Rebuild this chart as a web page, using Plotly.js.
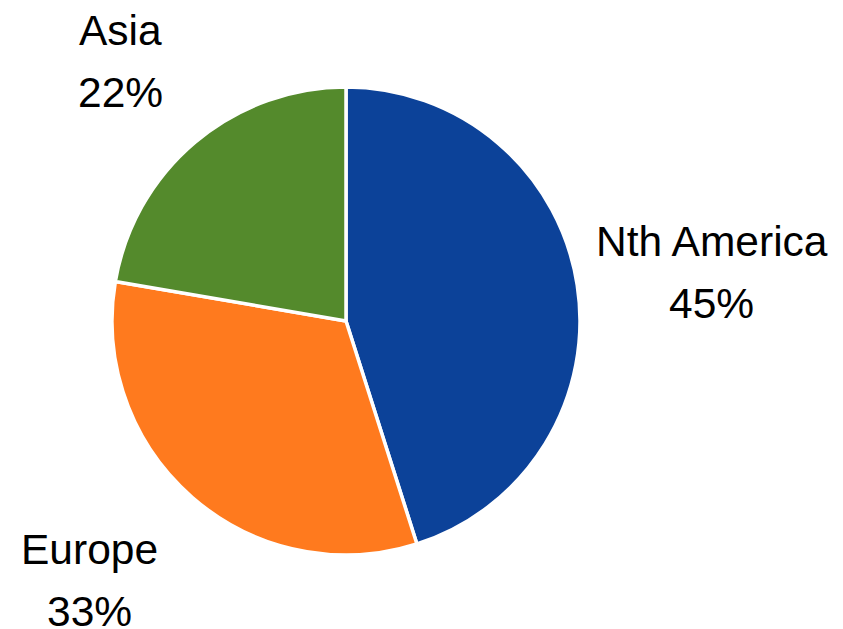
<!DOCTYPE html>
<html>
<head>
<meta charset="utf-8">
<script src="https://cdn.plot.ly/plotly-3.0.1.min.js"></script>
<style>html,body{margin:0;padding:0;background:#fff;}#chart{width:843px;height:629px;}</style>
</head>
<body>
<div id="chart"></div>
<script>
const regions = ["Nth America", "Europe", "Asia"];
const shares = [45.1, 32.6, 22.3];
const colors = ["#0C4299", "#FF7A1E", "#548A2C"];

const W = 843, H = 629;
const cx = 346, cy = 321, R = 234;
// label placement tuning (layout only): distance from pie centre in px, angle tweak in degrees
const labelDist = [369, 365, 344];
const labelAngleAdj = [1.2, 3.6, -0.9];
const lineGap = 31;
const fontSpec = {family: "Liberation Sans, Arial, sans-serif", size: 42.5, color: "#000"};

const total = shares.reduce((a, b) => a + b, 0);
const annotations = [];
let cum = 0;
shares.forEach((v, i) => {
  const mid = ((cum + v / 2) / total * 360 + labelAngleAdj[i]) * Math.PI / 180;
  cum += v;
  const px = cx + labelDist[i] * Math.sin(mid);
  const py = cy - labelDist[i] * Math.cos(mid);
  const xp = px / W, yp = 1 - py / H;
  annotations.push({x: xp, y: yp, xref: "paper", yref: "paper", text: regions[i],
    showarrow: false, xanchor: "center", yanchor: "middle", yshift: lineGap, font: fontSpec});
  annotations.push({x: xp, y: yp, xref: "paper", yref: "paper", text: Math.round(v / total * 100) + "%",
    showarrow: false, xanchor: "center", yanchor: "middle", yshift: -lineGap, font: fontSpec});
});

const data = [{
  type: "pie",
  labels: regions,
  values: shares,
  sort: false,
  direction: "clockwise",
  rotation: 0,
  textinfo: "none",
  hoverinfo: "label+percent",
  marker: {colors: colors, line: {color: "#ffffff", width: 3.5}},
  domain: {x: [(cx - R) / W, (cx + R) / W], y: [(H - cy - R) / H, (H - cy + R) / H]}
}];

const layout = {
  width: W, height: H,
  margin: {l: 0, r: 0, t: 0, b: 0},
  showlegend: false,
  paper_bgcolor: "#ffffff",
  annotations: annotations
};

Plotly.newPlot("chart", data, layout, {displayModeBar: false, staticPlot: true});
</script>
</body>
</html>
